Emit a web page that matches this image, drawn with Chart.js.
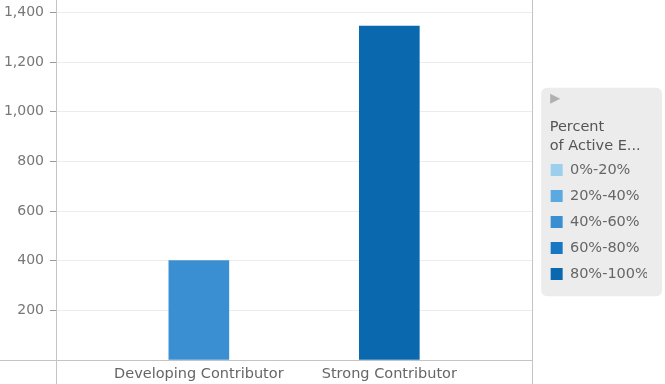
<!DOCTYPE html>
<html>
<head>
<meta charset="utf-8">
<script src="https://cdn.jsdelivr.net/npm/chart.js@4"></script>
<style>
  html, body { margin: 0; padding: 0; background: #fff; }
  #wrap { width: 665px; height: 384px; }
</style>
</head>
<body>
<div id="wrap"><canvas id="chart"></canvas></div>
<script>
const categories = ['Developing Contributor', 'Strong Contributor'];
const employeeCounts = [400, 1345];
// which percent band each category falls into (index into bandLabels)
const categoryBand = [2, 4];
const bandLabels = ['0%-20%', '20%-40%', '40%-60%', '60%-80%', '80%-100%'];
const bandColors = ['#9ccfee', '#5aa9e0', '#3a8fd3', '#1877c2', '#0a68ae'];
const legendTitle = ['Percent', 'of Active E...'];
const yTicks = [0, 200, 400, 600, 800, 1000, 1200, 1400];

const FONT = 'DejaVu Sans, Verdana, sans-serif';

// one dataset per band so the legend lists every band; empty bands draw nothing
const datasets = bandLabels.map((band, b) => ({
  label: band,
  backgroundColor: bandColors[b],
  data: categories
    .map((c, i) => (categoryBand[i] === b ? { x: i, y: employeeCounts[i] } : null))
    .filter((p) => p !== null),
  barThickness: 60,
  grouped: false,
}));

const framePlugin = {
  id: 'frame',
  beforeDraw(chart) {
    const lg = chart.legend;
    if (!lg || !lg.legendHitBoxes || !lg.legendHitBoxes.length) return;
    const ctx = chart.ctx;
    const boxes = lg.legendHitBoxes;
    const x0 = lg.left + 2;
    const y0 = boxes[0].top - 75;
    const y1 = boxes[boxes.length - 1].top + boxes[boxes.length - 1].height + 15;
    ctx.save();
    ctx.fillStyle = '#ececec';
    ctx.beginPath();
    ctx.roundRect(x0, y0, 121, y1 - y0, 6);
    ctx.fill();
    // little collapse arrow
    ctx.fillStyle = '#b0b0b0';
    ctx.beginPath();
    ctx.moveTo(x0 + 9, y0 + 6);
    ctx.lineTo(x0 + 19, y0 + 11);
    ctx.lineTo(x0 + 9, y0 + 16);
    ctx.closePath();
    ctx.fill();
    // legend heading, lined up with the swatches
    ctx.fillStyle = '#555';
    ctx.font = '14.5px ' + FONT;
    ctx.textBaseline = 'middle';
    ctx.textAlign = 'left';
    legendTitle.forEach((line, i) => {
      ctx.fillText(line, boxes[0].left - 1, boxes[0].top - 36 + i * 19);
    });
    ctx.restore();
  },
  afterDraw(chart) {
    const { ctx, chartArea, height } = chart;
    const l = Math.round(chartArea.left) + 0.5;
    const r = Math.round(chartArea.right) + 0.5;
    const b = Math.round(chartArea.bottom) + 0.5;
    ctx.save();
    ctx.strokeStyle = '#c4c4c4';
    ctx.lineWidth = 1;
    ctx.beginPath();
    ctx.moveTo(l, 0); ctx.lineTo(l, height);
    ctx.moveTo(r, 0); ctx.lineTo(r, height);
    ctx.moveTo(0, b); ctx.lineTo(r, b);
    ctx.stroke();
    ctx.restore();
  },
};

new Chart(document.getElementById('chart'), {
  type: 'bar',
  data: { datasets },
  options: {
    responsive: true,
    maintainAspectRatio: false,
    animation: false,
    layout: { padding: { top: 0, right: 18, bottom: 0, left: 0 } },
    scales: {
      x: {
        type: 'linear',
        min: -0.75,
        max: 1.75,
        offset: false,
        grid: { display: false, drawTicks: false },
        border: { display: false },
        afterBuildTicks: (scale) => {
          scale.ticks = categories.map((c, i) => ({ value: i }));
        },
        afterFit: (scale) => {
          scale.height = 24;
          scale.paddingLeft = 0;
          scale.paddingRight = 0;
        },
        ticks: {
          padding: 6,
          maxRotation: 0,
          autoSkip: false,
          color: '#666',
          font: { family: FONT, size: 14.5 },
          callback: (v) => categories[v],
        },
      },
      y: {
        min: 0,
        max: 1450,
        grid: { color: '#ececec', tickColor: '#999', tickLength: 6 },
        border: { display: false },
        afterBuildTicks: (scale) => {
          scale.ticks = yTicks.map((v) => ({ value: v }));
        },
        afterFit: (scale) => {
          scale.width = 56;
          scale.paddingTop = 0;
          scale.paddingBottom = 0;
        },
        ticks: {
          padding: 6,
          color: '#777',
          font: { family: FONT, size: 14 },
          callback: (v) => (v === 0 ? '' : v.toLocaleString('en-US')),
        },
      },
      // spacer between the plot frame and the legend panel
      gap: {
        type: 'linear',
        position: 'right',
        display: true,
        grid: { display: false },
        border: { display: false },
        ticks: { display: false },
        afterFit: (scale) => {
          scale.width = 7;
          scale.paddingTop = 0;
          scale.paddingBottom = 0;
        },
      },
    },
    plugins: {
      tooltip: { enabled: false },
      legend: {
        position: 'right',
        onClick: null,
        // the heading itself is drawn by the frame plugin; this reserves its room
        title: {
          display: true,
          text: '',
          font: { family: FONT, size: 14, lineHeight: 19 / 14 },
          padding: { top: 29, bottom: 12 },
        },
        labels: {
          boxWidth: 12,
          boxHeight: 12,
          padding: 11.5,
          color: '#666',
          font: { family: FONT, size: 14.5 },
        },
      },
    },
  },
  plugins: [framePlugin],
});
</script>
</body>
</html>
